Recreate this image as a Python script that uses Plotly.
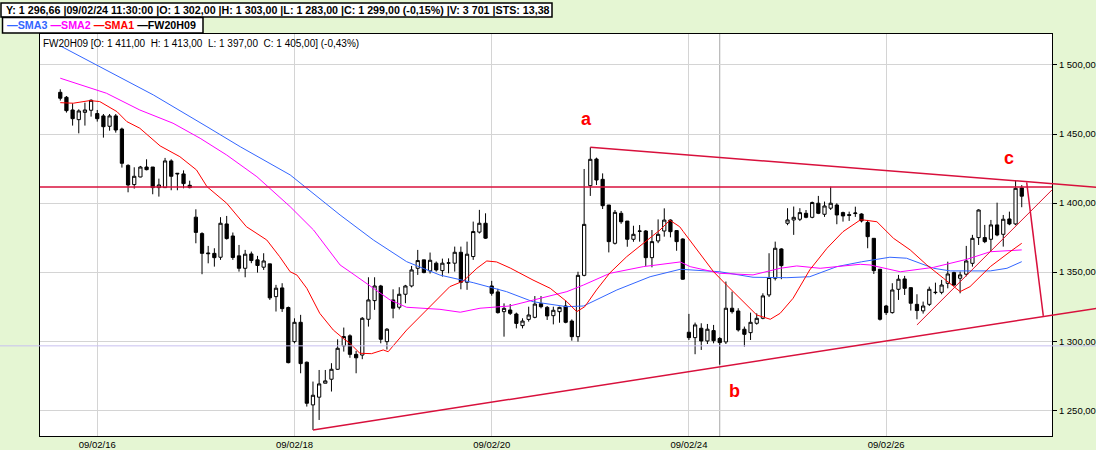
import plotly.graph_objects as go

# FW20H09, 30-minute bars: last 6 bars of 09/02/13 .. first 7 bars of 09/02/27 (16 bars a day)
opens = [
    1480.2, 1476.6, 1467.4, 1460.4, 1465.7, 1467.2, 1464.8, 1463.1, 1455.6, 1463.1,
    1453.6, 1427.3, 1413.4, 1418.9, 1426.1, 1426.1, 1411.2, 1411.2, 1430.5, 1421.6,
    1421.1, 1412.9, 1389.8, 1377.9, 1363.9, 1363.6, 1360.8, 1384.9, 1376.2, 1361.8,
    1352.8, 1363.2, 1358.9, 1353.6, 1356.0, 1332.3, 1338.6, 1324.4, 1299.7, 1313.7,
    1284.8, 1253.9, 1259.5, 1269.6, 1272.5, 1279.7, 1296.6, 1303.9, 1290.5, 1290.0,
    1315.9, 1329.4, 1340.0, 1299.7, 1329.9, 1324.6, 1334.0, 1340.0, 1352.8, 1358.9,
    1350.9, 1356.5, 1351.1, 1356.5, 1356.5, 1364.4, 1342.7, 1361.3, 1379.0, 1385.4,
    1340.0, 1335.7, 1321.4, 1322.6, 1319.7, 1311.3, 1315.8, 1317.3, 1327.2, 1324.5,
    1318.5, 1321.4, 1325.5, 1314.6, 1303.3, 1347.7, 1412.6, 1431.9, 1417.2, 1398.6,
    1370.9, 1392.6, 1387.0, 1373.8, 1379.8, 1379.8, 1360.5, 1372.6, 1379.8, 1387.7,
    1380.1, 1374.0, 1306.5, 1302.6, 1309.4, 1300.2, 1307.7, 1302.0, 1299.5, 1323.9,
    1321.9, 1308.7, 1306.2, 1313.0, 1316.6, 1333.5, 1345.6, 1366.8, 1385.4, 1387.8,
    1388.3, 1392.6, 1389.7, 1399.9, 1391.9, 1396.3, 1398.6, 1393.1, 1391.6, 1392.4,
    1392.1, 1385.9, 1374.5, 1352.1, 1325.5, 1320.7, 1337.6, 1345.1, 1338.8, 1326.7,
    1322.0, 1326.7, 1335.2, 1335.4, 1341.9, 1349.7, 1345.6, 1348.5, 1356.4, 1375.0,
    1375.0, 1373.8, 1384.2, 1377.4, 1388.5, 1384.9, 1411.0,
]
highs = [
    1482.4, 1477.5, 1472.2, 1467.9, 1472.7, 1475.1, 1467.4, 1464.5, 1464.5, 1464.5,
    1454.6, 1428.1, 1425.9, 1426.9, 1431.7, 1426.1, 1417.7, 1432.7, 1431.7, 1421.6,
    1423.7, 1416.2, 1395.5, 1378.9, 1369.0, 1367.3, 1389.8, 1390.7, 1378.7, 1369.7,
    1366.1, 1364.9, 1361.8, 1363.7, 1356.0, 1340.8, 1342.0, 1325.1, 1316.6, 1319.1,
    1285.3, 1270.8, 1279.2, 1279.2, 1284.1, 1301.4, 1309.9, 1305.0, 1293.0, 1317.5,
    1346.3, 1346.3, 1340.8, 1309.5, 1337.6, 1339.1, 1340.8, 1354.5, 1366.1, 1358.9,
    1364.2, 1357.7, 1359.8, 1360.0, 1368.5, 1368.5, 1372.1, 1386.6, 1395.1, 1392.6,
    1343.7, 1338.0, 1327.4, 1326.9, 1320.7, 1316.6, 1325.0, 1332.7, 1332.7, 1325.5,
    1325.0, 1325.0, 1329.4, 1315.8, 1350.3, 1424.7, 1440.4, 1432.9, 1421.5, 1398.6,
    1395.0, 1394.3, 1387.0, 1383.6, 1384.1, 1380.5, 1380.5, 1388.2, 1396.2, 1388.2,
    1380.5, 1374.5, 1319.8, 1313.5, 1313.0, 1312.5, 1311.8, 1303.0, 1343.2, 1335.9,
    1323.9, 1310.6, 1320.7, 1320.2, 1334.7, 1363.7, 1372.1, 1367.3, 1396.3, 1397.5,
    1396.3, 1395.0, 1401.1, 1405.2, 1401.1, 1411.9, 1399.9, 1393.8, 1393.8, 1397.4,
    1392.6, 1387.8, 1374.5, 1352.1, 1326.3, 1342.0, 1348.0, 1347.3, 1338.8, 1334.0,
    1328.7, 1339.5, 1342.4, 1344.4, 1357.6, 1350.4, 1350.4, 1369.0, 1377.0, 1395.5,
    1384.2, 1387.8, 1400.3, 1391.4, 1393.8, 1416.7, 1413.0,
]
lows = [
    1474.2, 1465.5, 1456.1, 1450.5, 1456.1, 1462.6, 1459.0, 1447.4, 1452.4, 1451.0,
    1425.7, 1407.8, 1410.5, 1418.7, 1423.7, 1406.4, 1404.7, 1411.2, 1409.3, 1409.3,
    1410.7, 1410.7, 1370.9, 1348.5, 1356.4, 1354.0, 1358.9, 1373.6, 1358.9, 1350.4,
    1346.3, 1356.5, 1349.7, 1351.6, 1329.9, 1321.5, 1321.2, 1284.0, 1298.5, 1276.8,
    1252.7, 1235.8, 1243.0, 1269.6, 1263.6, 1279.2, 1292.5, 1288.0, 1276.8, 1287.0,
    1310.6, 1322.7, 1298.5, 1294.0, 1316.6, 1323.0, 1327.5, 1339.0, 1348.0, 1349.2,
    1349.0, 1350.4, 1346.8, 1349.2, 1350.4, 1337.6, 1337.2, 1358.9, 1378.0, 1374.0,
    1333.0, 1320.0, 1303.3, 1319.0, 1309.3, 1309.3, 1314.2, 1316.6, 1323.8, 1315.4,
    1312.2, 1313.4, 1313.0, 1300.4, 1299.7, 1347.0, 1405.2, 1413.1, 1395.7, 1364.3,
    1370.0, 1385.0, 1368.4, 1372.0, 1372.1, 1354.5, 1353.5, 1371.0, 1375.7, 1375.2,
    1365.5, 1344.5, 1300.9, 1290.6, 1293.7, 1298.0, 1298.5, 1283.0, 1298.0, 1320.0,
    1307.0, 1296.1, 1300.9, 1312.0, 1315.9, 1332.0, 1344.0, 1344.9, 1384.0, 1377.0,
    1387.0, 1389.0, 1389.0, 1392.0, 1390.0, 1395.0, 1384.7, 1386.6, 1387.1, 1390.0,
    1386.0, 1367.3, 1348.7, 1315.0, 1319.0, 1320.0, 1329.9, 1333.5, 1322.2, 1315.9,
    1320.0, 1325.5, 1334.0, 1334.0, 1338.3, 1340.0, 1334.7, 1347.0, 1354.0, 1369.7,
    1371.0, 1364.9, 1376.0, 1368.5, 1384.0, 1384.0, 1397.0,
]
closes = [
    1475.9, 1466.9, 1461.1, 1466.7, 1467.4, 1474.4, 1461.1, 1455.3, 1463.1, 1452.9,
    1428.8, 1413.1, 1419.4, 1426.1, 1424.2, 1411.2, 1413.1, 1430.5, 1419.4, 1421.2,
    1414.1, 1411.2, 1378.8, 1363.6, 1363.4, 1360.5, 1385.4, 1374.3, 1360.6, 1352.8,
    1363.0, 1358.4, 1354.8, 1358.1, 1331.4, 1338.4, 1323.6, 1284.5, 1313.7, 1283.8,
    1255.1, 1260.9, 1269.1, 1271.3, 1279.7, 1294.9, 1303.4, 1290.5, 1288.0, 1316.6,
    1329.9, 1340.0, 1301.4, 1308.7, 1323.9, 1334.0, 1340.0, 1351.6, 1358.4, 1349.7,
    1358.6, 1351.6, 1356.5, 1356.7, 1364.4, 1342.7, 1363.0, 1379.4, 1385.4, 1374.6,
    1334.7, 1320.7, 1323.8, 1320.2, 1312.9, 1314.6, 1319.0, 1326.9, 1325.0, 1318.3,
    1322.4, 1324.5, 1313.7, 1303.3, 1347.7, 1384.6, 1431.7, 1416.7, 1398.1, 1372.1,
    1393.3, 1386.5, 1373.8, 1377.4, 1379.6, 1360.5, 1372.1, 1377.4, 1387.7, 1379.3,
    1372.1, 1344.9, 1302.6, 1311.8, 1300.2, 1308.7, 1300.4, 1299.0, 1323.9, 1321.4,
    1308.2, 1305.0, 1313.7, 1316.6, 1332.8, 1346.1, 1367.3, 1354.7, 1387.8, 1389.7,
    1393.1, 1389.7, 1400.4, 1392.6, 1397.9, 1399.9, 1391.4, 1390.7, 1391.2, 1392.8,
    1387.1, 1375.7, 1351.1, 1315.9, 1320.7, 1337.1, 1344.9, 1338.3, 1327.5, 1322.2,
    1325.5, 1337.6, 1335.4, 1340.7, 1348.7, 1340.7, 1348.0, 1358.1, 1374.5, 1395.0,
    1372.1, 1384.2, 1376.9, 1388.3, 1384.9, 1410.7, 1405.0,
]

# moving averages at bar positions
sma1_x = [0, 2.1, 4.8, 6.4, 9.2, 10.8, 12.9, 16.2, 19.4, 22.1, 23.8, 27, 30.2, 33.5,
          35.6, 37.3, 38.4, 40, 42.1, 44.3, 45.9, 47, 48.6, 50.5, 52.4, 53.2, 56.2,
          59.5, 63.2, 65.4, 67.6, 69.2, 70.8, 73, 74.1, 76.7, 79.5, 82.2, 83.8, 85.1,
          87, 89.2, 91.9, 94.6, 97.3, 98.9, 100.5, 101.1, 103.3, 106, 108.1, 110.8,
          113, 115.2, 116.8, 118.9, 121.6, 124.4, 127, 129.8, 130.3, 132.5, 135.2,
          137.9, 140.6, 143.3, 146, 147.6, 150.9, 154.1, 156]
sma1_y = [1472.7, 1472.3, 1474.2, 1473.5, 1466.2, 1459.0, 1454.2, 1441.4, 1433.6,
          1424.0, 1411.9, 1399.9, 1382.9, 1373.3, 1361.2, 1350.3, 1347.9, 1338.3,
          1320.2, 1308.1, 1302.1, 1298.5, 1291.3, 1291.0, 1293.7, 1292.4, 1308.1,
          1322.6, 1339.5, 1343.6, 1352.8, 1358.1, 1357.4, 1353.0, 1350.3, 1344.3,
          1338.3, 1328.6, 1321.4, 1325.0, 1337.1, 1349.6, 1361.2, 1370.9, 1380.5,
          1387.6, 1382.9, 1379.3, 1366.1, 1350.3, 1340.7, 1328.6, 1319.0, 1315.9,
          1320.2, 1331.1, 1351.6, 1367.3, 1379.3, 1387.8, 1387.8, 1386.5, 1374.5,
          1366.1, 1355.2, 1345.6, 1335.9, 1339.5, 1354.0, 1364.8, 1370.9]

sma2_x = [0, 7.5, 12.9, 18.3, 22.7, 27, 31.9, 37.3, 41.1, 45.4, 47, 49.7, 53.5, 56.2,
          61.6, 64.9, 68.1, 72.9, 76.7, 82.2, 84.9, 89.2, 94.6, 100.6, 102.2, 107,
          112.4, 116.8, 119.5, 123.3, 129.8, 131.4, 136.3, 141.7, 147.1, 150.9, 156]
sma2_y = [1490.4, 1479.5, 1467.4, 1457.8, 1446.9, 1434.8, 1419.1, 1397.4, 1380.5,
          1355.2, 1350.3, 1342.0, 1329.9, 1324.6, 1323.1, 1321.0, 1323.9, 1325.5,
          1329.9, 1335.9, 1340.7, 1349.2, 1354.0, 1357.4, 1354.0, 1349.2, 1348.0,
          1352.8, 1354.5, 1352.8, 1355.7, 1355.2, 1350.3, 1353.5, 1359.3, 1364.8,
          1366.1]

sma3_x = [0, 4.3, 15.1, 23.8, 29.2, 37.3, 45.4, 50.8, 56.2, 61.6, 67, 72.4, 76.7, 82.2,
          84.9, 90.3, 95.7, 100.6, 107, 112.4, 117.9, 121.6, 126, 130, 134.6, 137.3,
          141.7, 144.4, 150.9, 153.6, 156]
sma3_y = [1513.8, 1503.6, 1478.3, 1455.3, 1440.8, 1420.4, 1391.4, 1373.3, 1357.6,
          1347.9, 1342.4, 1335.9, 1328.6, 1325.0, 1325.5, 1337.1, 1346.7, 1352.1,
          1350.3, 1346.3, 1346.0, 1346.7, 1354.0, 1357.5, 1360.8, 1360.1, 1352.8,
          1350.9, 1350.9, 1352.8, 1357.6]

day_ticks = [6, 38, 70, 102, 134]
day_labels = ['09/02/16', '09/02/18', '09/02/20', '09/02/24', '09/02/26']
price_ticks = [1250, 1300, 1350, 1400, 1450, 1500]
price_labels = ['1 250,00', '1 300,00', '1 350,00', '1 400,00', '1 450,00', '1 500,00']

# hand drawn lines: (bar, price) pairs
trend_upper = [(86, 1440.4), (168.1, 1411.5)]
trend_lower = [(41, 1235.8), (168.1, 1323.8)]
trend_drop = [(156.8, 1415.0), (159.5, 1318.3)]
trend_support = [(139, 1311.8), (160.9, 1409.5)]
level_line = 1411.7
cursor_bar = 107
cursor_price = 1296.66
wave_labels = [('a', 85.4, 1461.0), ('b', 109.4, 1264.0), ('c', 154.0, 1432.6)]

x_range = [-3.29, 160.91]
y_range = [1231.4, 1522.4]

W, H = 1096, 450
L, R, T, B = 40, 44, 34, 14
BG = '#e5f6d3'
CRIMSON = '#d8103c'


def xp(i):
    return (i - x_range[0]) / (x_range[1] - x_range[0])


def pxx(px):
    return (px - L) / (W - L - R)


def pxy(py):
    return (H - B - py) / (H - T - B)


bars = list(range(len(opens)))

fig = go.Figure()
fig.add_trace(go.Scatter(x=sma3_x, y=sma3_y, mode='lines', line=dict(color='#3366ff', width=1)))
fig.add_trace(go.Scatter(x=sma2_x, y=sma2_y, mode='lines', line=dict(color='#ff00ff', width=1)))
fig.add_trace(go.Scatter(x=sma1_x, y=sma1_y, mode='lines', line=dict(color='#ff0000', width=1)))
fig.add_trace(go.Candlestick(
    x=bars, open=opens, high=highs, low=lows, close=closes,
    increasing=dict(line=dict(color='black', width=1), fillcolor='white'),
    decreasing=dict(line=dict(color='black', width=1), fillcolor='black'),
    whiskerwidth=0,
))

shapes = []
# cursor
shapes.append(dict(type='line', xref='x', yref='paper', x0=cursor_bar, x1=cursor_bar, y0=0, y1=1,
                   line=dict(color='#a8a8a8', width=1), layer='below'))
shapes.append(dict(type='line', xref='paper', yref='y', x0=pxx(0), x1=pxx(W), y0=cursor_price, y1=cursor_price,
                   line=dict(color='#c8c0f0', width=1)))
shapes.append(dict(type='line', xref='paper', yref='y', x0=0, x1=1, y0=level_line, y1=level_line,
                   line=dict(color=CRIMSON, width=1.5)))
for (a, b), w in [(trend_upper, 1.5), (trend_lower, 1.5), (trend_drop, 1.5)]:
    shapes.append(dict(type='line', xref='paper', yref='y', x0=xp(a[0]), y0=a[1], x1=xp(b[0]), y1=b[1],
                       line=dict(color=CRIMSON, width=w)))
a, b = trend_support
shapes.append(dict(type='line', xref='x', yref='y', x0=a[0], y0=a[1], x1=b[0], y1=b[1],
                   line=dict(color='#e0102a', width=1)))
# header boxes
shapes.append(dict(type='rect', xref='paper', yref='paper', x0=pxx(1), x1=pxx(552), y0=pxy(17), y1=pxy(3),
                   fillcolor='white', line=dict(color='black', width=1.5)))
shapes.append(dict(type='rect', xref='paper', yref='paper', x0=pxx(2.5), x1=pxx(203), y0=pxy(33), y1=pxy(17.5),
                   fillcolor='white', line=dict(color='black', width=1.5)))

annotations = []
for t, i, p in wave_labels:
    annotations.append(dict(x=i, y=p, xref='x', yref='y', text='<b>%s</b>' % t, showarrow=False,
                            font=dict(family='Liberation Sans', size=18, color='#ff0000')))
info = ('Y: 1 296,66 |09/02/24 11:30:00 |O: 1 302,00 |H: 1 303,00 |L: 1 283,00 '
        '|C: 1 299,00 (-0,15%) |V: 3 701 |STS: 13,38')
annotations.append(dict(x=pxx(4), y=pxy(10), xref='paper', yref='paper', xanchor='left', yanchor='middle',
                        text='<b>%s</b>' % info, showarrow=False,
                        font=dict(family='Liberation Sans', size=10.7, color='black')))
legend_txt = ("<span style='color:#3366ff'>—SMA3</span> <span style='color:#ff00ff'>—SMA2</span> "
              "<span style='color:#ff0000'>—SMA1</span> <span style='color:black'>—FW20H09</span>")
annotations.append(dict(x=pxx(5), y=pxy(25.3), xref='paper', yref='paper', xanchor='left', yanchor='middle',
                        text='<b>%s</b>' % legend_txt, showarrow=False,
                        font=dict(family='Liberation Sans', size=10.7, color='black')))
last_txt = 'FW20H09 [O: 1 411,00\u00a0 H: 1 413,00\u00a0 L: 1 397,00\u00a0 C: 1 405,00] (-0,43%)'
annotations.append(dict(x=pxx(41), y=pxy(43.5), xref='paper', yref='paper', xanchor='left', yanchor='middle',
                        text=last_txt, showarrow=False,
                        font=dict(family='Liberation Sans', size=10, color='black')))

fig.update_layout(
    width=W, height=H,
    margin=dict(l=L, r=R, t=T, b=B),
    paper_bgcolor=BG, plot_bgcolor='white',
    showlegend=False,
    shapes=shapes, annotations=annotations,
    font=dict(family='Liberation Sans', size=10, color='black'),
    boxgap=0.25,
)
fig.update_xaxes(
    range=x_range, rangeslider_visible=False, tickvals=day_ticks, ticktext=day_labels,
    showgrid=True, gridcolor='#d4d4d4', gridwidth=1, zeroline=False,
    showline=True, linecolor='black', linewidth=1, mirror=True,
    ticks='', tickfont=dict(size=9.5),
    automargin=False,
)
fig.update_yaxes(
    range=y_range, side='right', tickvals=price_ticks, ticktext=price_labels,
    showgrid=True, gridcolor='#d4d4d4', gridwidth=1, zeroline=False,
    showline=True, linecolor='black', linewidth=1, mirror=True,
    ticks='outside', ticklen=4, tickcolor='black', tickfont=dict(size=9.5),
    automargin=False,
)

# the page's default 8px body margin would push the chart off the window
fig.write_html('out.html', config={'displayModeBar': False},
               post_script="document.body.style.margin='0';")
